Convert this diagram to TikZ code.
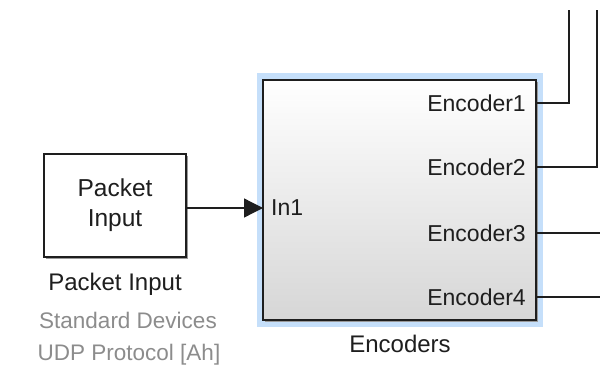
\documentclass[tikz,border=0pt]{standalone}
\usepackage{fontspec}
\setmainfont{Liberation Sans}
\usetikzlibrary{arrows.meta}
\definecolor{ink}{HTML}{1E1E1E}
\definecolor{note}{HTML}{8C8C8C}
\definecolor{selblue}{HTML}{C5DFFA}
\definecolor{shadowgray}{HTML}{9A9A9A}
\tikzset{
  blockbox/.style={draw=ink, line width=1.6pt, inner sep=0pt},
  wire/.style={draw=ink, line width=1.3pt},
  lbl/.style={text=ink, inner sep=0pt, font=\fontsize{24}{30}\selectfont},
  portlbl/.style={text=ink, inner sep=0pt, font=\fontsize{23}{28}\selectfont},
  notelbl/.style={text=note, inner sep=0pt, font=\fontsize{22.5}{28}\selectfont},
}
\begin{document}
\begin{tikzpicture}[x=1pt,y=-1pt]
\useasboundingbox (0,0) rectangle (600,367);
\fill[white] (0,0) rectangle (600,367);

% Packet Input source block
\fill[shadowgray] (46,156) rectangle (188,259);
\node[blockbox, fill=white, minimum width=142pt, minimum height=103pt,
      align=center, font=\fontsize{24.5}{30}\selectfont, text=ink]
      (pkt) at (115,205.5) {Packet\\Input};
\node[lbl, anchor=base] (pktname) at (115,290) {Packet Input};
\node[notelbl, anchor=base] (pktlib1) at (128,328) {Standard Devices};
\node[notelbl, anchor=base] (pktlib2) at (129,360) {UDP Protocol [Ah]};

% Encoders subsystem, shown selected
\fill[selblue] (257,72.5) rectangle (542.5,327);
\fill[shadowgray] (265,82) rectangle (538,322);
\node[blockbox, top color=white, bottom color=black!16,
      minimum width=273pt, minimum height=240pt]
      (enc) at (399.5,200) {};
\node[lbl, anchor=base] (encname) at (400,352) {Encoders};

% ports
\coordinate (in1) at (263,208);
\coordinate (out1) at (536,103);
\coordinate (out2) at (536,167);
\coordinate (out3) at (536,233);
\coordinate (out4) at (536,297);
\node[portlbl, anchor=west] (in1lbl) at (271,208) {In1};
\node[portlbl, anchor=east] (o1lbl) at (526,103) {Encoder1};
\node[portlbl, anchor=east] (o2lbl) at (526,167) {Encoder2};
\node[portlbl, anchor=east] (o3lbl) at (526,233) {Encoder3};
\node[portlbl, anchor=east] (o4lbl) at (526,297) {Encoder4};

% signal lines
\coordinate (up1) at (569,10);
\coordinate (up2) at (597,10);
\coordinate (r3) at (600,233);
\coordinate (r4) at (600,297);
\draw[wire, -{Triangle[length=19pt,width=19pt]}] (pkt.east |- in1) -- (in1);
\draw[wire] (out1) -| (up1);
\draw[wire] (out2) -| (up2);
\draw[wire] (out3) -- (r3);
\draw[wire] (out4) -- (r4);
\end{tikzpicture}
\end{document}
